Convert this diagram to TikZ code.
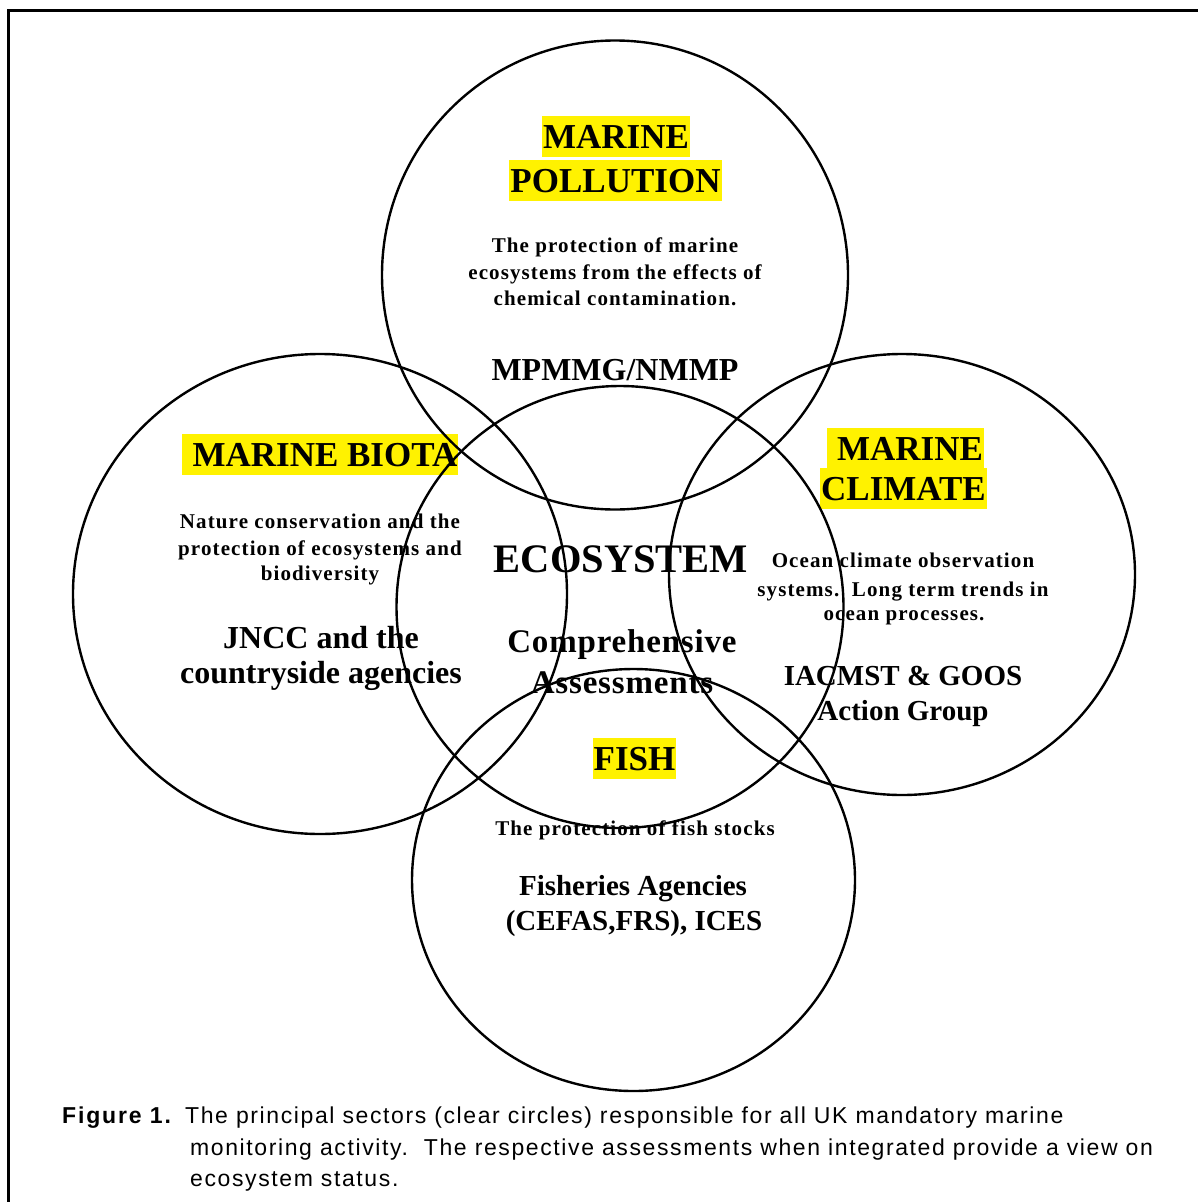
\documentclass[tikz,border=0pt]{standalone}
\usepackage{fontspec}
\setmainfont{Liberation Serif}
\newfontfamily\capfont{Liberation Sans}
\begin{document}
\begin{tikzpicture}[x=1pt,y=-1pt,
  hl/.style={fill=yellow, inner xsep=1pt, inner ysep=0pt, text height=32pt, text depth=9pt, anchor=base, font=\fontsize{35}{42}\selectfont\bfseries},
  desc/.style={inner sep=0pt, anchor=base, font=\fontsize{21}{26}\selectfont\bfseries\addfontfeature{LetterSpace=5.3}},
  agency/.style={inner sep=0pt, anchor=base, font=\fontsize{32}{38}\selectfont\bfseries},
  agencys/.style={inner sep=0pt, anchor=base, font=\fontsize{29}{35}\selectfont\bfseries},
  capt/.style={inner sep=0pt, anchor=base west, font=\capfont\fontsize{23}{27}\selectfont\addfontfeature{LetterSpace=7}},
  ring/.style={draw=black, line width=2.4pt}]
\useasboundingbox (0,0) rectangle (1198,1202);
% frame
\draw[line width=3pt] (8.5,1202) -- (8.5,10) -- (1198,10);
% pollution
\node[hl] (pt1) at (616,148) {MARINE};
\node[hl] (pt2) at (615.5,192) {POLLUTION};
\node[desc] (pd1) at (615,252) {The protection of marine};
\node[desc] (pd2) at (615,279) {ecosystems from the effects of};
\node[desc] (pd3) at (615,305) {chemical contamination.};
\node[agency] (pa) at (615,380) {MPMMG/NMMP};
% biota
\node[hl] (bt) at (320,466) {\hspace*{10pt}MARINE BIOTA};
\node[desc] (bd1) at (320,528) {Nature conservation and the};
\node[desc] (bd2) at (320,555) {protection of ecosystems and};
\node[desc] (bd3) at (320,580) {biodiversity};
\node[agency] (ba1) at (321,648) {JNCC and the};
\node[agency] (ba2) at (321,683) {countryside agencies};
% climate
\node[hl] (ct1) at (905.5,460) {\hspace*{9pt}MARINE};
\node[hl] (ct2) at (903.5,500) {CLIMATE};
\node[desc] (cd1) at (903,567) {Ocean climate observation};
\node[desc] (cd2) at (903,596) {systems.\ \ Long term trends in};
\node[desc] (cd3) at (904,620) {ocean processes.};
\node[agencys] (ca1) at (903,685) {IACMST \& GOOS};
\node[agencys] (ca2) at (903,720) {Action Group};
% ecosystem
\node[inner sep=0pt, anchor=base, font=\fontsize{40.5}{48}\selectfont\bfseries] (e1) at (621,572) {ECOSYSTEM};
\node[inner sep=0pt, anchor=base, font=\fontsize{33}{39}\selectfont\bfseries\addfontfeature{LetterSpace=2.5}] (e2) at (622,652) {Comprehensive};
\node[inner sep=0pt, anchor=base, font=\fontsize{33}{39}\selectfont\bfseries\addfontfeature{LetterSpace=2.5}] (e3) at (622,693) {Assessments};
% fish
\node[hl] (ft) at (634.5,770) {FISH};
\node[desc] (fd) at (635,835) {The protection of fish stocks};
\node[agencys] (fa1) at (633,895) {Fisheries Agencies};
\node[agencys] (fa2) at (634,930) {(CEFAS,FRS), ICES};
% circles
\draw[ring] (615,275) ellipse [x radius=233pt, y radius=234.5pt];
\draw[ring] (320,594) ellipse [x radius=247pt, y radius=240pt];
\draw[ring] (902,574.5) ellipse [x radius=233pt, y radius=220.5pt];
\draw[ring] (620,607) ellipse [x radius=223.5pt, y radius=221pt];
\draw[ring] (633.5,880) ellipse [x radius=221.5pt, y radius=211pt];
% caption
\node[capt, font=\capfont\bfseries\fontsize{23}{27}\selectfont\addfontfeature{LetterSpace=8}] (c0) at (62,1123) {Figure 1.};
\node[capt] (c1) at (185,1123) {The principal sectors (clear circles) responsible for all UK mandatory marine};
\node[capt] (c2) at (190,1155) {monitoring activity.\ \ The respective assessments when integrated provide a view on};
\node[capt] (c3) at (190,1186) {ecosystem status.};
\end{tikzpicture}
\end{document}
